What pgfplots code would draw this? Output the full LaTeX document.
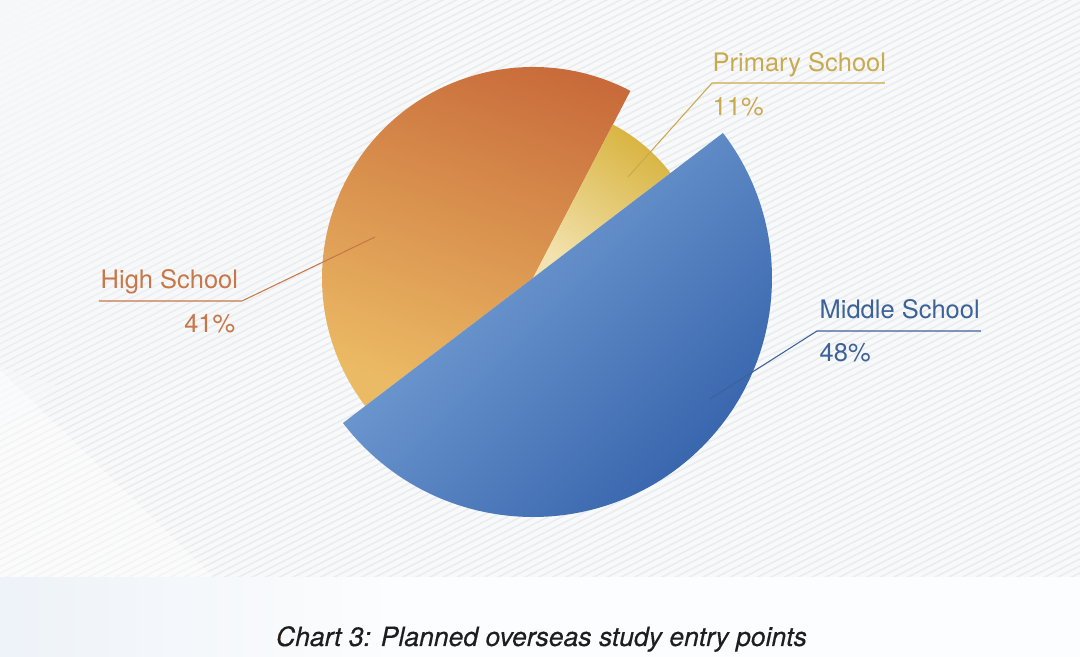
\documentclass[border=0pt]{standalone}
\usepackage{fontspec}
\setmainfont{TeX Gyre Heros}
\usepackage{pgfplots}
\pgfplotsset{compat=1.18}
\usepackage{pgfplotstable}
\usetikzlibrary{patterns.meta,fadings}

\definecolor{bgc}{HTML}{F8F9FA}
\definecolor{stripe}{HTML}{EBECEE}
\definecolor{fadec}{HTML}{F6F8FB}
\definecolor{bandc}{HTML}{FCFDFE}
\definecolor{bandl}{HTML}{EEF3F9}
\definecolor{oTop}{HTML}{C86A3A}
\definecolor{oBot}{HTML}{EBBA64}
\definecolor{yTop}{HTML}{D8B440}
\definecolor{yBot}{HTML}{F2E2AE}
\definecolor{bLight}{HTML}{7EA8DA}
\definecolor{bDark}{HTML}{305EA8}
\definecolor{pLab}{HTML}{C9AA4E}
\definecolor{hLab}{HTML}{C87748}
\definecolor{mLab}{HTML}{3D6298}
\definecolor{titc}{HTML}{1E1E1E}

\tikzfading[name=fadeout, inner color=transparent!0, outer color=transparent!100]
\tikzfading[name=faderight, left color=transparent!0, right color=transparent!100]

% slice geometry (angles in degrees, radius in mm; 1 px = 0.1 mm)
\pgfplotstableread{
label   percent start   end     radius
Middle  48      -142.65 37.35   23.9
Primary 11      37.35   62.5    17.3
High    41      62.5    217.35  21.1
}\pietable

\begin{document}
\begin{tikzpicture}
\pgfplotstablegetelem{0}{start}\of\pietable \let\mS\pgfplotsretval
\pgfplotstablegetelem{0}{end}\of\pietable \let\mE\pgfplotsretval
\pgfplotstablegetelem{0}{radius}\of\pietable \let\mR\pgfplotsretval
\pgfplotstablegetelem{0}{percent}\of\pietable \let\mP\pgfplotsretval
\pgfplotstablegetelem{1}{start}\of\pietable \let\pS\pgfplotsretval
\pgfplotstablegetelem{1}{end}\of\pietable \let\pE\pgfplotsretval
\pgfplotstablegetelem{1}{radius}\of\pietable \let\pR\pgfplotsretval
\pgfplotstablegetelem{1}{percent}\of\pietable \let\pP\pgfplotsretval
\pgfplotstablegetelem{2}{start}\of\pietable \let\hS\pgfplotsretval
\pgfplotstablegetelem{2}{end}\of\pietable \let\hE\pgfplotsretval
\pgfplotstablegetelem{2}{radius}\of\pietable \let\hR\pgfplotsretval
\pgfplotstablegetelem{2}{percent}\of\pietable \let\hP\pgfplotsretval
\begin{axis}[
  hide axis, scale only axis,
  width=108mm, height=65.7mm,
  xmin=0, xmax=1080, ymin=0, ymax=657,
  clip=false, disabledatascaling,
]
% background
\fill[bgc] (axis cs:0,0) rectangle (axis cs:1080,657);
\begin{scope}
\clip (axis cs:0,0) rectangle (axis cs:1080,657);
\fill[pattern={Lines[angle=27,distance=0.62mm,line width=0.16mm]}, pattern color=stripe]
  (axis cs:0,80) rectangle (axis cs:1080,657);
\fill[overlay, fadec, path fading=fadeout] (axis cs:0,657) circle[radius=42mm];
\fill[fadec, opacity=0.6] (axis cs:0,290) -- (axis cs:0,230) -- (axis cs:60,270) -- cycle;
\fill[white, opacity=0.45] (axis cs:0,287) -- (axis cs:213,80) -- (axis cs:0,80) -- cycle;
\fill[bandc] (axis cs:0,0) rectangle (axis cs:1080,80);
\fill[bandl, path fading=faderight] (axis cs:0,0) rectangle (axis cs:380,80);
\end{scope}

% slices
\shade[top color=oTop, bottom color=oBot, shading angle=-20]
  (axis cs:533,379) -- ++(\hS:\hR mm) arc[start angle=\hS, end angle=\hE, radius=\hR mm] -- cycle;
\shade[top color=yTop, bottom color=yBot, shading angle=-35]
  (axis cs:533,379) -- ++(\pS:\pR mm) arc[start angle=\pS, end angle=\pE, radius=\pR mm] -- cycle;
\shade[left color=bLight, right color=bDark, shading angle=45]
  (axis cs:533,379) -- ++(\mS:\mR mm) arc[start angle=\mS, end angle=\mE, radius=\mR mm] -- cycle;

% leader lines
\addplot[pLab, line width=0.3pt, no marks, forget plot] coordinates {(628,480) (712,574) (885,574)};
\addplot[hLab, line width=0.3pt, no marks, forget plot] coordinates {(375,420) (242,356) (99,356)};
\addplot[mLab, line width=0.3pt, no marks, forget plot] coordinates {(710,258) (817,326) (981,326)};

% labels
\node[anchor=base west, inner sep=0pt, text=pLab, font=\fontsize{7.25}{8.7}\selectfont] at (axis cs:712,585) {Primary School};
\node[anchor=base west, inner sep=0pt, text=pLab, font=\fontsize{7.25}{8.7}\selectfont] at (axis cs:712,541) {\pP\%};
\node[anchor=base west, inner sep=0pt, text=hLab, font=\fontsize{7.25}{8.7}\selectfont] at (axis cs:100,368) {High School};
\node[anchor=base east, inner sep=0pt, text=hLab, font=\fontsize{7.25}{8.7}\selectfont] at (axis cs:236,324) {\hP\%};
\node[anchor=base west, inner sep=0pt, text=mLab, font=\fontsize{7.25}{8.7}\selectfont] at (axis cs:819,338) {Middle School};
\node[anchor=base west, inner sep=0pt, text=mLab, font=\fontsize{7.25}{8.7}\selectfont] at (axis cs:819,295) {\mP\%};

% title
\node[anchor=base, inner sep=0pt, text=titc, font=\itshape\fontsize{7.55}{9}\selectfont\addfontfeature{FakeBold=0.35}] at (axis cs:541.5,11) {Chart 3: Planned overseas study entry points};
\end{axis}
\end{tikzpicture}
\end{document}
